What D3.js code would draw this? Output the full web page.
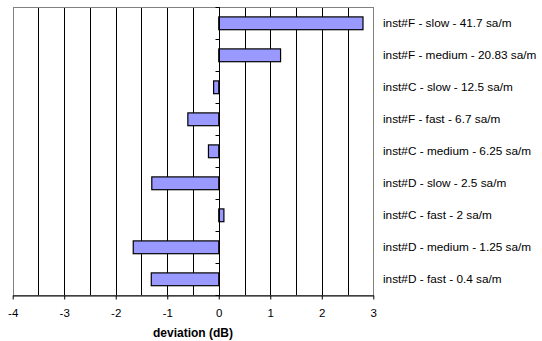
<!DOCTYPE html>
<html><head><meta charset="utf-8">
<script src="https://cdn.jsdelivr.net/npm/d3@7"></script>
<style>body{margin:0;background:#fff}svg{display:block}text{font-family:"Liberation Sans",Arial,sans-serif}</style>
</head><body>
<svg id="c" width="542" height="341"></svg>
<script>
const categories = ["inst#F - slow - 41.7 sa/m","inst#F - medium - 20.83 sa/m","inst#C - slow - 12.5 sa/m","inst#F - fast - 6.7 sa/m","inst#C - medium - 6.25 sa/m","inst#D - slow - 2.5 sa/m","inst#C - fast - 2 sa/m","inst#D - medium - 1.25 sa/m","inst#D - fast - 0.4 sa/m"];
const values = [2.8, 1.2, -0.1, -0.6, -0.2, -1.3, 0.1, -1.66, -1.31];
const xTicks = [-4,-3,-2,-1,0,1,2,3];
const gridVals = [-3.5,-3,-2.5,-2,-1.5,-1,-0.5,0.5,1,1.5,2,2.5];

const svg = d3.select("#c");
const L=12.7, R=373.3, T=7.3, B=295.3;
const x = d3.scaleLinear().domain([-4,3]).range([L,R]);
const y = d3.scaleBand().domain(categories).range([T,B]).paddingInner(0.6).paddingOuter(0.3);
const yb = d3.scaleBand().domain(categories).range([T,B]);

// gridlines
svg.append("g").selectAll("line").data(gridVals).join("line")
  .attr("x1",d=>Math.round(x(d))+0.5).attr("x2",d=>Math.round(x(d))+0.5)
  .attr("y1",T).attr("y2",B).attr("stroke","#000").attr("stroke-width",1);
// frame
svg.append("rect").attr("x",Math.round(L)+0.5).attr("y",Math.round(T)+0.5)
  .attr("width",Math.round(R)-Math.round(L)).attr("height",Math.round(B)-Math.round(T))
  .attr("fill","none").attr("stroke","#808080").attr("stroke-width",1);

// bars
svg.append("g").selectAll("rect").data(values).join("rect")
  .attr("x",d=>x(Math.min(0,d))).attr("width",d=>Math.abs(x(d)-x(0)))
  .attr("y",(d,i)=>y(categories[i])).attr("height",y.bandwidth())
  .attr("fill","#9999ff").attr("stroke","#000").attr("stroke-width",1.2);

// zero axis with ticks
const x0 = Math.round(x(0))+0.5;
svg.append("line").attr("x1",x0).attr("x2",x0).attr("y1",T).attr("y2",B).attr("stroke","#000");
svg.append("g").selectAll("line").data(d3.range(categories.length+1)).join("line")
  .attr("x1",x0-4).attr("x2",x0)
  .attr("y1",i=>Math.round(i<categories.length?yb(categories[i]):B)+0.5)
  .attr("y2",i=>Math.round(i<categories.length?yb(categories[i]):B)+0.5)
  .attr("stroke","#000");

// bottom axis
const xa = svg.append("g").attr("transform",`translate(0,${Math.round(B)+0.5})`)
  .call(d3.axisBottom(x).tickValues(xTicks).tickSize(4).tickSizeOuter(0).tickFormat(d3.format("d")));
xa.select(".domain").attr("stroke","#000");
xa.selectAll(".tick line").attr("stroke","#000");
xa.selectAll("text").attr("font-size",11.5).attr("fill","#000").attr("y",21).attr("dy",0).text(d=>d<0?"-"+Math.abs(d):d);

svg.append("text").attr("x",(L+R)/2).attr("y",337).attr("text-anchor","middle")
  .attr("font-size",12).attr("font-weight","bold").text("deviation (dB)");

// category labels
svg.append("g").selectAll("text").data(categories).join("text")
  .attr("x",383).attr("y",d=>yb(d)+yb.bandwidth()/2).attr("dy","0.35em")
  .attr("font-size",11.8).attr("fill","#000").text(d=>d);
</script>
</body></html>
